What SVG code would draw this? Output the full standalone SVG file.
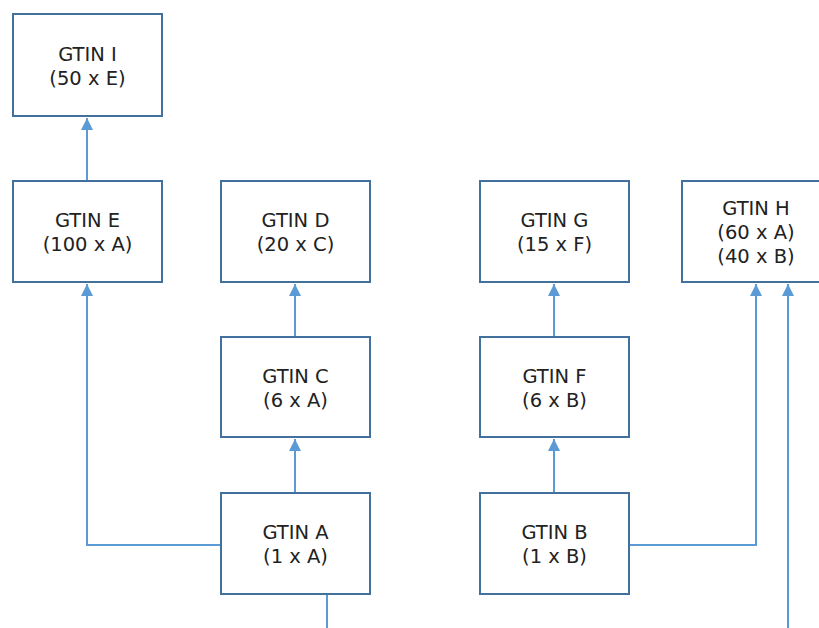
<svg xmlns="http://www.w3.org/2000/svg" width="819" height="628" viewBox="0 0 819 628">
<defs>
<style>
.box{fill:#fff;stroke:#41719C;stroke-width:2}
.lbl{font-family:"DejaVu Sans",Verdana,sans-serif;font-size:19.5px;fill:#222;text-anchor:middle}
.con{fill:none;stroke:#5B9BD5;stroke-width:2}
</style>
<marker id="ah" markerWidth="12" markerHeight="12" refX="10" refY="5" orient="auto" markerUnits="userSpaceOnUse" viewBox="0 0 10 10">
<path d="M0,0 L10,5 L0,10 z" fill="#5B9BD5"/>
</marker>
</defs>
<rect width="819" height="628" fill="#fff"/>
<g id="connectors">
<path class="con" d="M87,181 V118" marker-end="url(#ah)"/>
<path class="con" d="M221,545 H87 V284" marker-end="url(#ah)"/>
<path class="con" d="M295,493 V439" marker-end="url(#ah)"/>
<path class="con" d="M295,337 V284" marker-end="url(#ah)"/>
<path class="con" d="M327,594 V628"/>
<path class="con" d="M554,493 V439" marker-end="url(#ah)"/>
<path class="con" d="M554,337 V284" marker-end="url(#ah)"/>
<path class="con" d="M629,545 H756 V284" marker-end="url(#ah)"/>
<path class="con" d="M788,628 V284" marker-end="url(#ah)"/>
</g>
<g id="gtin-i"><rect class="box" x="13" y="14" width="149" height="102"/><text class="lbl" x="87.5" y="61">GTIN I</text><text class="lbl" x="87.5" y="85">(50 x E)</text></g>
<g id="gtin-e"><rect class="box" x="13" y="181" width="149" height="101"/><text class="lbl" x="87.5" y="227">GTIN E</text><text class="lbl" x="87.5" y="251">(100 x A)</text></g>
<g id="gtin-d"><rect class="box" x="221" y="181" width="149" height="101"/><text class="lbl" x="295.5" y="227">GTIN D</text><text class="lbl" x="295.5" y="251">(20 x C)</text></g>
<g id="gtin-g"><rect class="box" x="480" y="181" width="149" height="101"/><text class="lbl" x="554.5" y="227">GTIN G</text><text class="lbl" x="554.5" y="251">(15 x F)</text></g>
<g id="gtin-h"><rect class="box" x="682" y="181" width="149" height="101"/><text class="lbl" x="756" y="215">GTIN H</text><text class="lbl" x="756" y="239">(60 x A)</text><text class="lbl" x="756" y="263">(40 x B)</text></g>
<g id="gtin-c"><rect class="box" x="221" y="337" width="149" height="100"/><text class="lbl" x="295.5" y="383">GTIN C</text><text class="lbl" x="295.5" y="407">(6 x A)</text></g>
<g id="gtin-f"><rect class="box" x="480" y="337" width="149" height="100"/><text class="lbl" x="554.5" y="383">GTIN F</text><text class="lbl" x="554.5" y="407">(6 x B)</text></g>
<g id="gtin-a"><rect class="box" x="221" y="493" width="149" height="101"/><text class="lbl" x="295.5" y="539">GTIN A</text><text class="lbl" x="295.5" y="563">(1 x A)</text></g>
<g id="gtin-b"><rect class="box" x="480" y="493" width="149" height="101"/><text class="lbl" x="554.5" y="539">GTIN B</text><text class="lbl" x="554.5" y="563">(1 x B)</text></g>
</svg>
